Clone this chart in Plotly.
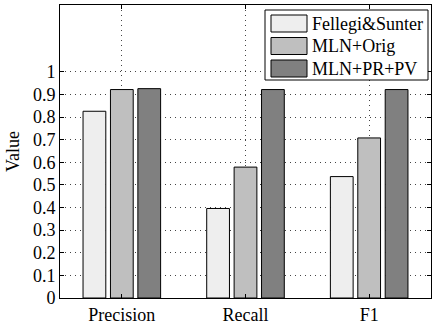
import plotly.graph_objects as go

categories = ["Precision", "Recall", "F1"]
series_names = ["Fellegi&Sunter", "MLN+Orig", "MLN+PR+PV"]
fellegi = [0.826, 0.396, 0.537]
mln_orig = [0.922, 0.579, 0.708]
mln_prpv = [0.926, 0.922, 0.922]
series_values = [fellegi, mln_orig, mln_prpv]
colors = ["#eeeeee", "#bfbfbf", "#808080"]
y_ticks = [0, 0.1, 0.2, 0.3, 0.4, 0.5, 0.6, 0.7, 0.8, 0.9, 1]
y_tick_text = ["0", "0.1", "0.2", "0.3", "0.4", "0.5", "0.6", "0.7", "0.8", "0.9", "1"]

FONT = "Times New Roman"

fig = go.Figure()
for name, vals, col in zip(series_names, series_values, colors):
    fig.add_trace(go.Bar(
        x=categories, y=vals, name=name,
        marker=dict(color=col, line=dict(color="#000000", width=1)),
        showlegend=False,
    ))

L, R_, T, B = 60, 431, 5, 298
W, H = R_ - L, B - T
def px(x): return (x - L) / W
def py(y): return (B - y) / H

shapes = []
annotations = []
shapes.append(dict(type="rect", xref="paper", yref="paper",
                   x0=px(265), x1=px(428), y0=py(80), y1=py(10),
                   line=dict(color="#000000", width=1), fillcolor="#ffffff", layer="above"))
row_centers = [23.5, 46, 68.5]
for name, col, yc in zip(series_names, colors, row_centers):
    shapes.append(dict(type="rect", xref="paper", yref="paper",
                       x0=px(271), x1=px(307), y0=py(yc + 8.5), y1=py(yc - 8.5),
                       line=dict(color="#000000", width=1), fillcolor=col, layer="above"))
    annotations.append(dict(xref="paper", yref="paper", x=px(310), y=py(yc),
                            text=name, showarrow=False, xanchor="left", yanchor="middle",
                            font=dict(family=FONT, size=18, color="#000000")))

fig.update_layout(
    width=432, height=326,
    margin=dict(l=L, r=432 - R_, t=T, b=326 - B),
    paper_bgcolor="#ffffff", plot_bgcolor="#ffffff",
    barmode="group", bargap=0.335, bargroupgap=0.17,
    font=dict(family=FONT, size=18, color="#000000"),
    shapes=shapes, annotations=annotations,
)
fig.update_xaxes(
    range=[-0.5, 2.5], showline=True, linecolor="#000000", linewidth=1, mirror="ticks",
    showgrid=True, gridcolor="#444444", griddash="1px,4px", gridwidth=1,
    ticks="inside", ticklen=4, tickcolor="#000000",
    tickfont=dict(family=FONT, size=18),
)
fig.update_yaxes(
    range=[0, 1.296], tickvals=y_ticks, ticktext=y_tick_text,
    showline=True, linecolor="#000000", linewidth=1, mirror="ticks",
    showgrid=True, gridcolor="#444444", griddash="1px,4px", gridwidth=1,
    zeroline=False, ticks="inside", ticklen=4, tickcolor="#000000",
    tickfont=dict(family=FONT, size=18),
    title=dict(text="Value", font=dict(family=FONT, size=18), standoff=8),
)

fig.write_html("out.html")
